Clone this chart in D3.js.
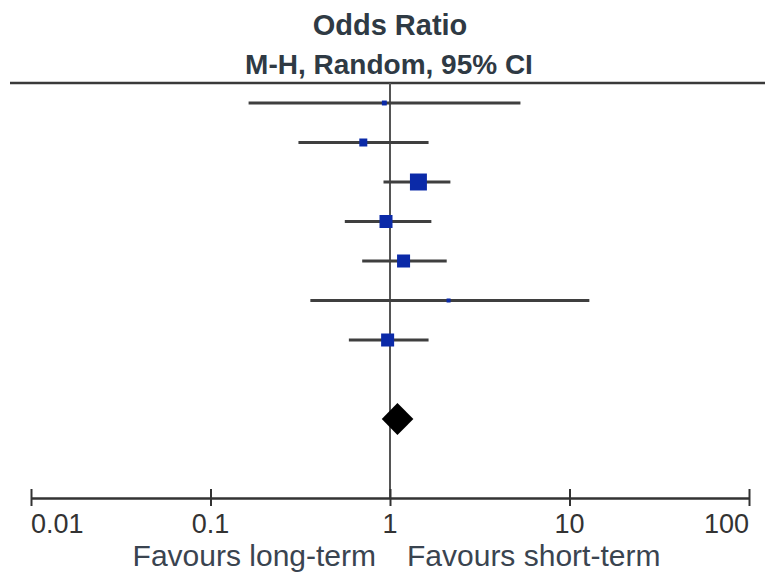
<!DOCTYPE html>
<html>
<head>
<meta charset="utf-8">
<script src="https://cdn.jsdelivr.net/npm/d3@7"></script>
<style>
  body { margin: 0; background: #fff; }
  text { font-family: "Liberation Sans", Arial, sans-serif; }
</style>
</head>
<body>
<div id="chart"></div>
<script>
// study estimates (odds ratio with 95% CI)
const studyOR    = [0.93, 0.71, 1.44, 0.95, 1.19, 2.12, 0.97];
const studyLower = [0.163, 0.309, 0.92, 0.56, 0.70, 0.36, 0.59];
const studyUpper = [5.33, 1.64, 2.17, 1.70, 2.07, 12.9, 1.64];
const studyWeight = [2.7, 7.1, 32.0, 18.8, 18.8, 1.8, 18.8];
// pooled estimate
const totalOR = 1.10, totalLower = 0.90, totalUpper = 1.35;
const tickValues = [0.01, 0.1, 1, 10, 100];
const tickLabels = ["0.01", "0.1", "1", "10", "100"];

const W = 765, H = 576;
const svg = d3.select("#chart").append("svg")
  .attr("width", W).attr("height", H);

const x = d3.scaleLog().domain([0.01, 100]).range([31, 749]);
const rows = d3.range(studyOR.length + 2);
const y = d3.scalePoint().domain(rows).range([103, 419]);
const axisY = 498;

// headers
svg.append("text").attr("x", 390).attr("y", 35)
  .attr("text-anchor", "middle").attr("font-weight", "bold")
  .attr("font-size", 29).attr("fill", "#2f3a44").text("Odds Ratio");
svg.append("text").attr("x", 389).attr("y", 74)
  .attr("text-anchor", "middle").attr("font-weight", "bold")
  .attr("font-size", 28).attr("fill", "#2f3a44").text("M-H, Random, 95% CI");

svg.append("line").attr("x1", 10).attr("x2", W)
  .attr("y1", 83).attr("y2", 83)
  .attr("stroke", "#3a3a3a").attr("stroke-width", 2.5);

// line of no effect
svg.append("line").attr("x1", x(1)).attr("x2", x(1))
  .attr("y1", 83).attr("y2", axisY)
  .attr("stroke", "#555").attr("stroke-width", 2);

// confidence intervals
const studies = studyOR.map((d, i) => ({
  or: d, lo: studyLower[i], hi: studyUpper[i], w: studyWeight[i], row: i
}));

svg.selectAll(".ci").data(studies).enter().append("line")
  .attr("class", "ci")
  .attr("x1", d => x(d.lo)).attr("x2", d => x(d.hi))
  .attr("y1", d => y(d.row)).attr("y2", d => y(d.row))
  .attr("stroke", "#3f3f3f").attr("stroke-width", 2.8);

const side = d => 3.0 * Math.sqrt(d.w);
svg.selectAll(".box").data(studies).enter().append("rect")
  .attr("class", "box")
  .attr("x", d => x(d.or) - side(d) / 2)
  .attr("y", d => y(d.row) - side(d) / 2)
  .attr("width", side).attr("height", side)
  .attr("fill", "#0b2aa8");

// pooled diamond
const dy = y(rows[rows.length - 1]);
svg.append("path")
  .attr("d", `M${x(totalLower)},${dy} L${x(totalOR)},${dy - 16} L${x(totalUpper)},${dy} L${x(totalOR)},${dy + 16} Z`)
  .attr("fill", "#000");

// axis
const axis = d3.axisBottom(x).tickValues(tickValues).tickSizeOuter(0).tickFormat("");
const gAxis = svg.append("g").attr("transform", `translate(0,${axisY})`).call(axis);
gAxis.select(".domain").attr("stroke", "#333").attr("stroke-width", 2.5);
gAxis.selectAll(".tick line").attr("y1", -9).attr("y2", 8)
  .attr("stroke", "#333").attr("stroke-width", 2);

svg.selectAll(".tlab").data(tickValues).enter().append("text")
  .attr("class", "tlab")
  .attr("x", d => x(d))
  .attr("y", 533)
  .attr("text-anchor", (d, i) => i === 0 ? "start" : i === tickValues.length - 1 ? "end" : "middle")
  .attr("font-size", 27).attr("fill", "#333")
  .text((d, i) => tickLabels[i]);

svg.append("text").attr("x", x(1) - 14).attr("y", 566)
  .attr("text-anchor", "end").attr("font-size", 30).attr("fill", "#3a4450")
  .text("Favours long-term");
svg.append("text").attr("x", x(1) + 17).attr("y", 566)
  .attr("text-anchor", "start").attr("font-size", 30).attr("fill", "#3a4450")
  .text("Favours short-term");
</script>
</body>
</html>
